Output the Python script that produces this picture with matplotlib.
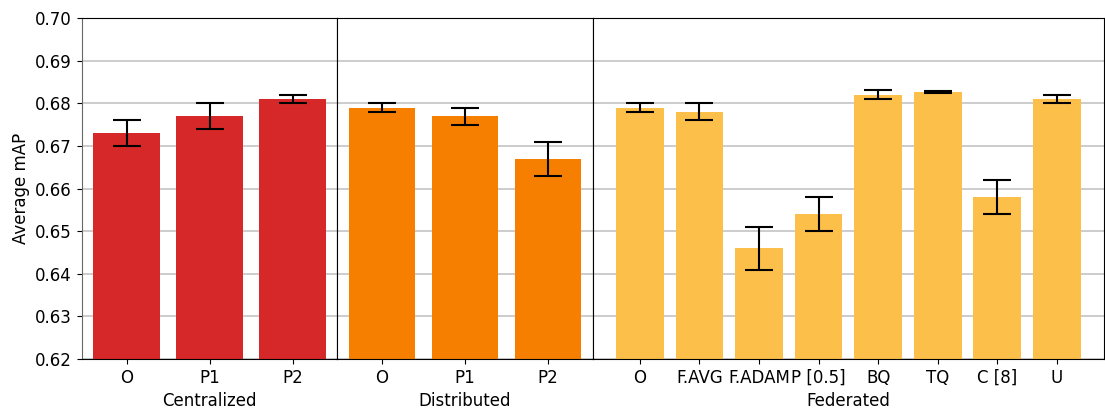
import matplotlib.pyplot as plt

# mAP results per training setup
cen_labels = ['O', 'P1', 'P2']
cen_means = [0.673, 0.677, 0.681]
cen_errs = [0.003, 0.003, 0.001]

dis_labels = ['O', 'P1', 'P2']
dis_means = [0.679, 0.677, 0.667]
dis_errs = [0.001, 0.002, 0.004]

fed_labels = ['O', 'F.AVG', 'F.ADAM', 'P [0.5]', 'BQ', 'TQ', 'C [8]', 'U']
fed_means = [0.679, 0.678, 0.646, 0.654, 0.682, 0.6827, 0.658, 0.681]
fed_errs = [0.001, 0.002, 0.005, 0.004, 0.001, 0.0002, 0.004, 0.001]

groups = [
    ('Centralized', cen_labels, cen_means, cen_errs, '#D62828'),
    ('Distributed', dis_labels, dis_means, dis_errs, '#F77F00'),
    ('Federated', fed_labels, fed_means, fed_errs, '#FCBF49'),
]

fig, axes = plt.subplots(1, 3, figsize=(11.05, 4.09), dpi=100, sharey=True,
                         gridspec_kw={'width_ratios': [1, 1, 2], 'wspace': 0})
fig.subplots_adjust(left=0.074, right=0.999, top=0.956, bottom=0.122)

for ax, (name, labels, means, errs, color) in zip(axes, groups):
    x = range(len(labels))
    ax.bar(x, means, width=0.8, color=color, yerr=errs, capsize=10,
           error_kw={'elinewidth': 1.5, 'capthick': 1.5, 'ecolor': 'black'}, zorder=2)
    ax.set_xticks(list(x))
    ax.set_xticklabels(labels, fontsize=12)
    ax.set_xlabel(name, fontsize=12)
    ax.grid(axis='y', color='#c4c4c4', linewidth=1.2, zorder=0)
    ax.set_axisbelow(True)
    ax.tick_params(axis='y', labelsize=12)

axes[0].set_ylim(0.62, 0.70)
axes[0].set_ylabel('Average mAP', fontsize=12)
axes[0].spines['left'].set_color('#666666')
for ax in axes[1:]:
    ax.tick_params(axis='y', left=False)

plt.savefig('out.png')
